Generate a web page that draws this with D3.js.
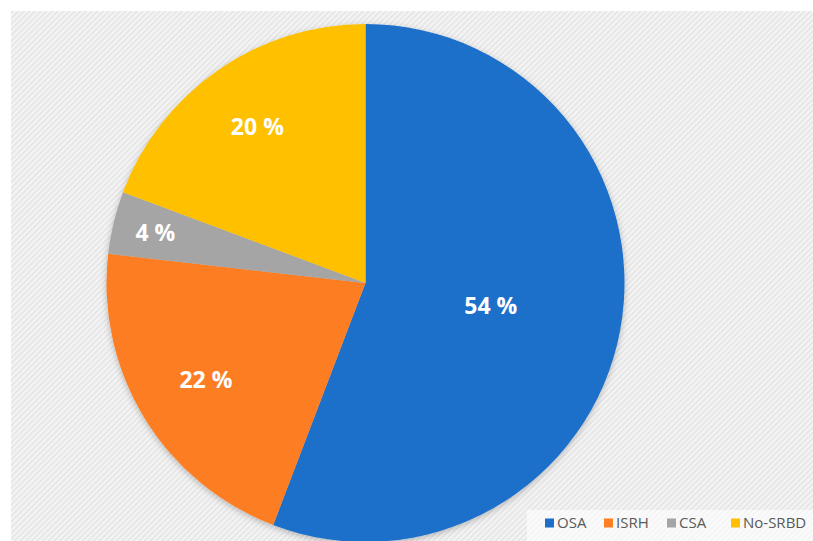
<!DOCTYPE html>
<html>
<head>
<meta charset="utf-8">
<script src="https://cdn.jsdelivr.net/npm/d3@7"></script>
<style>
  body { margin: 0; background: #fff; }
</style>
</head>
<body>
<div id="my_dataviz"></div>
<script>
(function(){
var categories = ["OSA", "ISRH", "CSA", "No-SRBD"];
var values = [55.8, 21.0, 3.9, 19.3];
var labels = ["54 %", "22 %", "4 %", "20 %"];
var colors = ["#1b6fca", "#fd7e23", "#a5a5a5", "#ffc000"];

var width = 813, height = 541;
var cx = 365.5, cy = 283, radius = 259;

var svg = d3.select("#my_dataviz")
    .append("svg")
    .attr("width", width)
    .attr("height", height);

// hatched background
var defs = svg.append("defs");
var pat = defs.append("pattern")
    .attr("id", "hatch")
    .attr("patternUnits", "userSpaceOnUse")
    .attr("width", 4)
    .attr("height", 4)
    .attr("patternTransform", "rotate(45)");
pat.append("rect").attr("width", 4).attr("height", 4).attr("fill", "#f4f4f4");
pat.append("rect").attr("width", 1.6).attr("height", 4).attr("fill", "#e4e4e4");

var shadow = defs.append("filter").attr("id", "shadow")
    .attr("x", "-10%").attr("y", "-10%").attr("width", "120%").attr("height", "120%");
shadow.append("feDropShadow")
    .attr("dx", 0).attr("dy", 2).attr("stdDeviation", 3)
    .attr("flood-color", "#000").attr("flood-opacity", 0.25);

svg.append("rect")
    .attr("x", 11).attr("y", 11)
    .attr("width", width - 11).attr("height", height - 11)
    .attr("fill", "url(#hatch)");

// pie
var pie = d3.pie().sort(null).value(function (d) { return d; });
var arcs = pie(values);
var arc = d3.arc().innerRadius(0).outerRadius(radius);

var g = svg.append("g")
    .attr("transform", "translate(" + cx + "," + cy + ")");

g.append("g").attr("filter", "url(#shadow)")
    .selectAll("path")
    .data(arcs)
    .join("path")
    .attr("d", arc)
    .attr("fill", function (d, i) { return colors[i]; });

// labels: smaller slices get labels further out
g.selectAll("text")
    .data(arcs)
    .join("text")
    .attr("transform", function (d) {
        var f = (d.endAngle - d.startAngle) / (2 * Math.PI);
        var r = radius * (0.86 - 0.66 * f);
        var c = d3.arc().innerRadius(r).outerRadius(r).centroid(d);
        return "translate(" + c[0] + "," + c[1] + ")";
    })
    .attr("text-anchor", "middle")
    .attr("dy", "0.35em")
    .style("font-family", "'Open Sans', sans-serif")
    .style("font-weight", "bold")
    .style("font-size", "23px")
    .attr("fill", "#fff")
    .text(function (d, i) { return labels[i]; });

// legend
svg.append("rect")
    .attr("x", 527).attr("y", 510)
    .attr("width", width - 527).attr("height", height - 510)
    .attr("fill", "#fff").attr("opacity", 0.6);

var legendX = [545, 604, 667, 731];
var legend = svg.append("g");
var items = legend.selectAll("g")
    .data(categories)
    .join("g")
    .attr("transform", function (d, i) { return "translate(" + legendX[i] + ",523)"; });
items.append("rect")
    .attr("x", 0).attr("y", -4.5)
    .attr("width", 9).attr("height", 9)
    .attr("fill", function (d, i) { return colors[i]; });
items.append("text")
    .attr("x", 12)
    .attr("dy", "0.35em")
    .style("font-family", "'Open Sans', sans-serif")
    .style("font-size", "15px")
    .attr("fill", "#595959")
    .text(function (d) { return d; });
})();
</script>
</body>
</html>
